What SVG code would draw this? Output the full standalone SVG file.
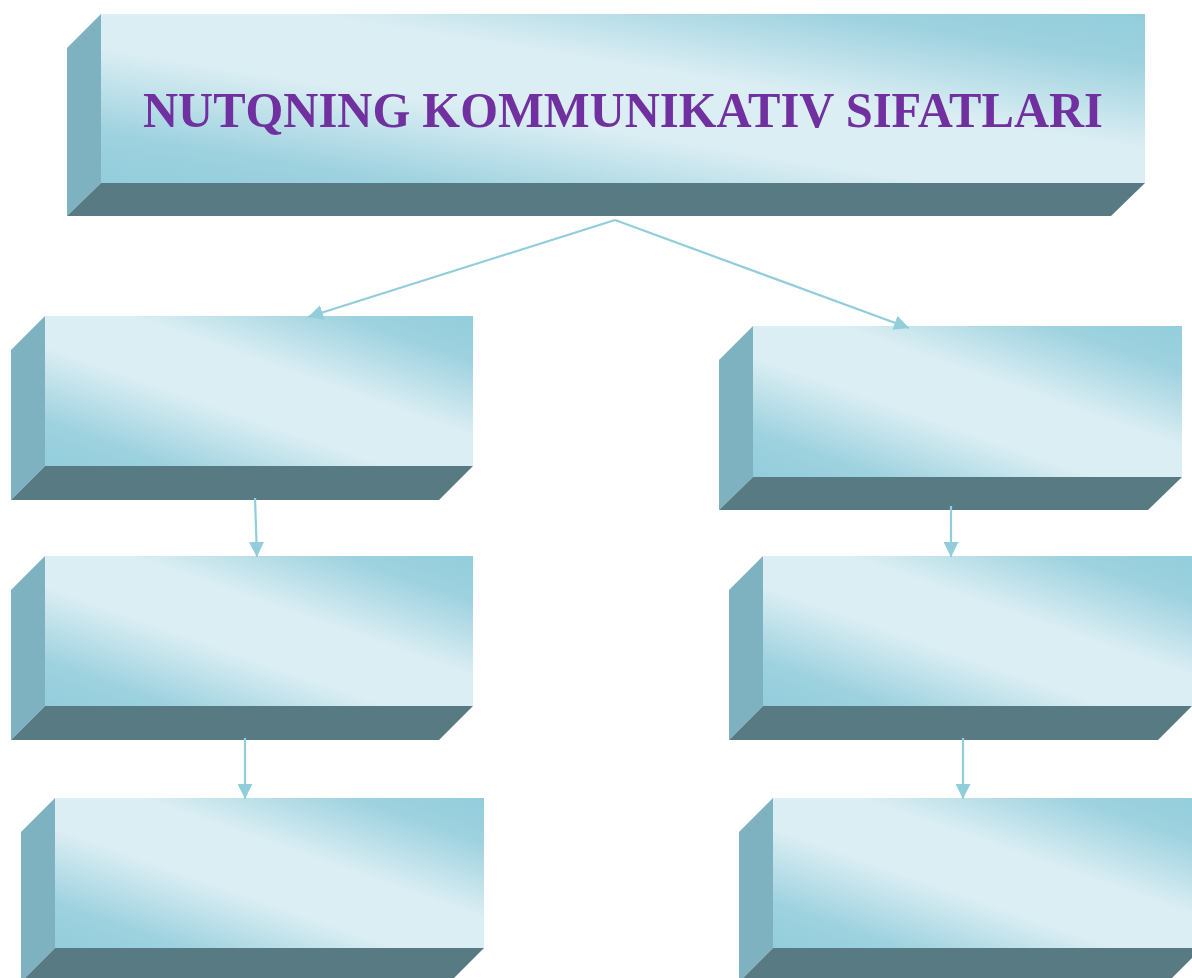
<svg xmlns="http://www.w3.org/2000/svg" width="1192" height="978" viewBox="0 0 1192 978">
<style>
.side{fill:#7FB2C0}
.bot{fill:#587A82}
.face{fill:url(#g)}
.con{stroke:#92CDDC;stroke-width:2.2;fill:none}
.title{font-family:"Liberation Serif","Times New Roman",serif;font-weight:bold;font-size:50px;fill:#7030A0}
</style>
<defs>
<linearGradient id="g" x1="0" y1="1" x2="1" y2="0">
<stop offset="0" stop-color="#93CDDC"/>
<stop offset="0.15" stop-color="#9ED2DF"/>
<stop offset="0.4" stop-color="#DBEEF3"/>
<stop offset="0.6" stop-color="#DBEEF3"/>
<stop offset="0.85" stop-color="#9ED2DF"/>
<stop offset="1" stop-color="#93CDDC"/>
</linearGradient>
<marker id="ah" viewBox="0 0 10 10" refX="10" refY="5" markerWidth="15" markerHeight="15" markerUnits="userSpaceOnUse" orient="auto">
<path d="M0,0 L10,5 L0,10 z" fill="#92CDDC"/>
</marker>
</defs>
<g id="title">
<rect class="face" x="101" y="14" width="1044" height="169"/>
<polygon class="side" points="67,48 101,14 101,183 67,216"/>
<polygon class="bot" points="67,216 101,183 1145,183 1111,216"/>
<text class="title" x="623" y="127" text-anchor="middle" textLength="960" lengthAdjust="spacingAndGlyphs">NUTQNING KOMMUNIKATIV SIFATLARI</text>
</g>
<g id="l1">
<rect class="face" x="45" y="316" width="428" height="150"/>
<polygon class="side" points="11,350 45,316 45,466 11,500"/>
<polygon class="bot" points="11,500 45,466 473,466 439,500"/>
</g>
<g id="r1">
<rect class="face" x="753" y="326" width="429" height="151"/>
<polygon class="side" points="719,360 753,326 753,477 719,510"/>
<polygon class="bot" points="719,510 753,477 1182,477 1148,510"/>
</g>
<g id="l2">
<rect class="face" x="45" y="556" width="428" height="150"/>
<polygon class="side" points="11,590 45,556 45,706 11,740"/>
<polygon class="bot" points="11,740 45,706 473,706 439,740"/>
</g>
<g id="r2">
<rect class="face" x="763" y="556" width="429" height="150"/>
<polygon class="side" points="729,590 763,556 763,706 729,740"/>
<polygon class="bot" points="729,740 763,706 1192,706 1158,740"/>
</g>
<g id="l3">
<rect class="face" x="55" y="798" width="429" height="150"/>
<polygon class="side" points="21,832 55,798 55,948 21,982"/>
<polygon class="bot" points="21,982 55,948 484,948 450,982"/>
</g>
<g id="r3">
<rect class="face" x="773" y="798" width="429" height="150"/>
<polygon class="side" points="739,832 773,798 773,948 739,982"/>
<polygon class="bot" points="739,982 773,948 1202,948 1168,982"/>
</g>
<g id="connectors">
<line class="con" x1="615" y1="220" x2="308" y2="317" marker-end="url(#ah)"/>
<line class="con" x1="615" y1="220" x2="909" y2="328" marker-end="url(#ah)"/>
<line class="con" x1="255" y1="498" x2="257" y2="557" marker-end="url(#ah)"/>
<line class="con" x1="951" y1="506" x2="951" y2="557" marker-end="url(#ah)"/>
<line class="con" x1="245" y1="738" x2="245" y2="799" marker-end="url(#ah)"/>
<line class="con" x1="963" y1="738" x2="963" y2="799" marker-end="url(#ah)"/>
</g>
</svg>
